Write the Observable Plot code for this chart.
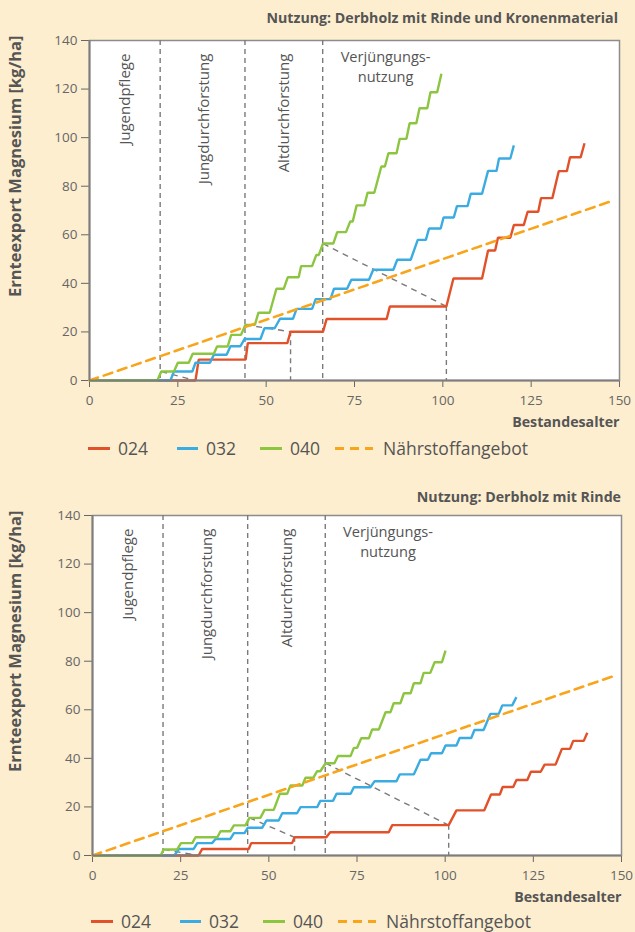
<!DOCTYPE html>
<html>
<head>
<meta charset="utf-8">
<script src="https://cdn.jsdelivr.net/npm/d3@7"></script>
<script src="https://cdn.jsdelivr.net/npm/@observablehq/plot@0.6"></script>
<style>
  html, body { margin: 0; padding: 0; background: #FDEECF; }
  #page { position: relative; width: 635px; height: 932px; background: #FDEECF; overflow: hidden; font-family: "Open Sans", sans-serif; color: #555; }
  .title { position: absolute; font-size: 14.2px; font-weight: bold; line-height: 20px; white-space: nowrap; }
  .chart { position: absolute; left: 0; }
  .lg-line { position: absolute; height: 0; }
  .lg-text { position: absolute; font-size: 17.5px; line-height: 22px; white-space: nowrap; color: #555; }
</style>
</head>
<body>
<div id="page"></div>
<script>
// ---------- data ----------
const xTicks = [0, 25, 50, 75, 100, 125, 150];
const yTicks = [0, 20, 40, 60, 80, 100, 120, 140];
const seriesKeys = ["024", "032", "040"];
const seriesColors = ["#E2522A", "#3BACE1", "#8CC540"];
const supplyLabel = "Nährstoffangebot";
const supplyColor = "#F9A51C";
const phaseBounds = [20, 44, 66];
const phaseNames = ["Jugendpflege", "Jungdurchforstung", "Altdurchforstung"];
const phaseLabelX = [10, 32.5, 55.2];
const lastPhaseLines = ["Verjüngungs-", "nutzung"];
const lastPhaseY = [133.2, 125.0];
const lastPhaseX = 83.8;
const yTitle = "Ernteexport Magnesium [kg/ha]";
const xTitle = "Bestandesalter";
const titleTop = "Nutzung: Derbholz mit Rinde und Kronenmaterial";
const titleBottom = "Nutzung: Derbholz mit Rinde";

// Nährstoffangebot (same in both panels)
const supply = [[0, 0], [148, 74]];

// top panel: Derbholz mit Rinde und Kronenmaterial
const top024 = [[0,0],[30,0],[30.9,8.6],[44.2,8.6],[44.8,15.4],[56,15.4],[56.9,20.1],[66.1,20.1],[67.1,25.3],[84.1,25.3],[85,30.5],[101,30.5],[103,42],[111.1,42],[112.8,53.5],[114.8,53.5],[115.6,58.8],[119.1,58.8],[120.1,64],[122.9,64],[124,69.5],[127,69.5],[127.8,75.1],[131,75.1],[132.8,86.2],[135.1,86.2],[136,91.9],[139,91.9],[140.1,97.7]];
const top032 = [[0,0],[22.9,0],[23.9,3.7],[29.1,3.7],[30,7.3],[34.1,7.3],[35.2,10.6],[38.8,10.6],[39.9,14.1],[42.7,14.1],[43.9,17.1],[48.4,17.1],[49.5,21.5],[52.4,21.5],[53.9,25.4],[57.6,25.4],[58.6,29.5],[63,29.5],[64,33.5],[68.2,33.5],[69.2,37.8],[72.9,37.8],[74.1,41.5],[79.1,41.5],[80.3,45.6],[86,45.6],[87.1,49.7],[90.9,49.7],[92.9,57.9],[95.2,57.9],[96.1,62.6],[99.4,62.6],[100.2,67.1],[103.1,67.1],[104,71.8],[107,71.8],[107.9,76.9],[111.1,76.9],[112.8,86.3],[115.2,86.3],[115.9,91.4],[119.1,91.4],[120.1,96.8]];
const top040 = [[0,0],[19.2,0],[20.3,3.7],[23.9,3.7],[25,7.3],[28.1,7.3],[29.2,11],[35.2,11],[36.1,14],[39.1,14],[40.1,18.8],[42.9,18.8],[44.1,22.9],[46.8,22.9],[47.8,27.9],[51,27.9],[52.9,37.8],[55,37.8],[56.1,42.5],[59.2,42.5],[59.9,47.1],[63,47.1],[64.2,51.7],[64.9,51.7],[66.1,56.4],[69,56.4],[70.1,61.1],[72.6,61.1],[73.8,65.5],[74.5,65.5],[75.6,72.1],[77.8,72.1],[78.7,77.3],[80.6,77.3],[82.6,88.1],[83.6,88.1],[84.6,93.6],[86.9,93.6],[87.8,99.5],[89.7,99.5],[90.6,105.9],[92.5,105.9],[93.4,112.1],[95.6,112.1],[96.5,118.7],[98.4,118.7],[99.6,126.3]];
const topLinks = [[[20.3,3.7],[30,0]], [[44.1,22.9],[56.9,20.1]], [[66.1,56.4],[101,30.5]]];
const topDrops = [[56.9,20.1],[101,30.5]];

// bottom panel: Derbholz mit Rinde
const bot024 = [[0,0],[30.1,0],[31.1,2.7],[44.3,2.7],[45,5.1],[56.6,5.1],[57.3,7.5],[66.3,7.5],[67.4,9.6],[84,9.6],[85,12.5],[101,12.5],[103.2,18.6],[111.1,18.6],[113,25.1],[115.5,25.1],[116.3,28.2],[119.3,28.2],[120.2,31.1],[123.3,31.1],[124.3,34.5],[127.1,34.5],[128.2,37.4],[131.3,37.4],[133.1,43.9],[135.4,43.9],[136.3,47.2],[139.3,47.2],[140.3,50.5]];
const bot032 = [[0,0],[23.2,0],[24.5,2.7],[28.7,2.7],[29.7,5.1],[33.9,5.1],[34.9,6.8],[39.1,6.8],[40.1,9.2],[43.1,9.2],[44,11.4],[48.1,11.4],[49.3,14.4],[52.8,14.4],[53.8,17.4],[58,17.4],[59,19.9],[63.7,19.9],[64.6,22.5],[68.2,22.5],[69.2,25.4],[73.2,25.4],[74.1,28.1],[78.8,28.1],[80,30.6],[86.2,30.6],[87.1,33.4],[91.1,33.4],[93,39.4],[95.1,39.4],[96,42.1],[99.1,42.1],[100.1,45.3],[103.2,45.3],[104.1,48.4],[107.4,48.4],[108.3,51.7],[110.9,51.7],[112.8,58.3],[115.2,58.3],[116.2,61.8],[119,61.8],[120.2,65.2]];
const bot040 = [[0,0],[19.3,0],[20.2,2.5],[24,2.5],[25.1,5.1],[28.3,5.1],[29.2,7.5],[35.4,7.5],[36.3,10],[39.1,10],[40.1,12.4],[43.4,12.4],[44.5,15.5],[47.6,15.5],[48.8,18.8],[51.4,18.8],[53.1,25.4],[55.2,25.4],[56.1,28.8],[59.5,28.8],[60.4,32],[62.6,32],[63.7,34.7],[64.6,34.7],[66.1,38],[68.6,38],[69.6,41],[73.2,41],[74.1,44.3],[75,44.3],[76.2,48.3],[78.4,48.3],[79.3,51.9],[81.2,51.9],[83.1,59],[84.5,59],[85.4,62.7],[87.3,62.7],[88.3,66.8],[90.2,66.8],[91.1,70.9],[93,70.9],[93.9,75.2],[95.8,75.2],[97,79.6],[99.1,79.6],[100.1,84.4]];
const botLinks = [[[20.2,2.5],[30.1,0]], [[44.5,15.5],[57.3,7.5]], [[66.1,38],[101,12.5]]];
const botDrops = [[57.3,7.5],[101,12.5]];

// ---------- build ----------
const page = document.getElementById("page");

function makeChart(series, links, drops, ml, mr) {
  const phaseTable = phaseNames.map((t, i) => ({x: phaseLabelX[i], y: 134.6, t}));
  const lastTable = lastPhaseLines.map((t, i) => ({x: lastPhaseX, y: lastPhaseY[i], t}));
  const linkTable = links.map(([a, b]) => ({x1: a[0], y1: a[1], x2: b[0], y2: b[1]}));
  const dropTable = drops.map(([x, y]) => ({x, y1: y, y2: 0}));
  const marks = [
    Plot.frame({fill: "white", stroke: "#8c8c8c", strokeWidth: 1.5}),
    Plot.ruleX(phaseBounds, {stroke: "#7a7a7a", strokeWidth: 1.4, strokeDasharray: "5,4"}),
    Plot.ruleX(dropTable, {x: "x", y1: "y1", y2: "y2", stroke: "#7a7a7a", strokeWidth: 1.4, strokeDasharray: "5,4"}),
    Plot.link(linkTable, {x1: "x1", y1: "y1", x2: "x2", y2: "y2", stroke: "#7a7a7a", strokeWidth: 1.4, strokeDasharray: "6,5"}),
    Plot.text(phaseTable, {x: "x", y: "y", text: "t", rotate: -90, textAnchor: "end", lineAnchor: "middle", fontSize: 15, fill: "#555"}),
    Plot.text(lastTable, {x: "x", y: "y", text: "t", fontSize: 14.6, lineAnchor: "middle", fill: "#555"}),
  ];
  series.forEach((s, i) => {
    marks.push(Plot.line(s, {x: d => d[0], y: d => d[1], stroke: seriesColors[i], strokeWidth: 2.4, strokeLinejoin: "miter", strokeLinecap: "butt"}));
  });
  marks.push(Plot.line(supply, {x: d => d[0], y: d => d[1], stroke: supplyColor, strokeWidth: 2.6, strokeDasharray: "9,6"}));
  marks.push(Plot.ruleY([0], {stroke: "#7d7d7d", strokeWidth: 2}));
  marks.push(Plot.ruleX([0], {stroke: "#7d7d7d", strokeWidth: 2}));
  marks.push(Plot.text([yTitle], {frameAnchor: "top-left", dx: -(ml - 15), dy: -5, rotate: -90, textAnchor: "end", lineAnchor: "middle", fontSize: 16.5, fontWeight: "bold", fill: "#555"}));
  marks.push(Plot.text([xTitle], {frameAnchor: "bottom-right", dy: 42, textAnchor: "end", lineAnchor: "middle", fontSize: 14.2, fontWeight: "bold", fill: "#555"}));
  return Plot.plot({
    width: 635,
    height: 402,
    marginTop: 10,
    marginBottom: 52,
    marginLeft: ml,
    marginRight: mr,
    style: {background: "transparent", fontFamily: "Open Sans, sans-serif", fontSize: "13.5px", color: "#666", overflow: "visible"},
    x: {domain: [0, 150], ticks: xTicks, tickSize: 7, tickPadding: 8, label: null},
    y: {domain: [0, 140], ticks: yTicks, tickSize: 8, tickPadding: 4, label: null},
    marks
  });
}

function addTitle(text, top, right) {
  const d = document.createElement("div");
  d.className = "title";
  d.style.top = top + "px";
  d.style.right = right + "px";
  d.textContent = text;
  page.appendChild(d);
}

function addLegend(cy, shift) {
  const lines = [[88, 110], [177, 198], [260, 282], [335, 373]];
  const textX = [118, 206, 290, 383];
  const keys = [...seriesKeys, supplyLabel];
  const colors = [...seriesColors, supplyColor];
  keys.forEach((k, i) => {
    const l = document.createElement("div");
    l.className = "lg-line";
    l.style.left = (lines[i][0] + shift) + "px";
    l.style.width = (lines[i][1] - lines[i][0]) + "px";
    l.style.top = (cy - 1.5) + "px";
    l.style.borderTop = i === 3 ? "none" : `3px solid ${colors[i]}`;
    if (i === 3) {
      l.style.height = "3px";
      l.style.background = `repeating-linear-gradient(to right, ${colors[i]} 0 9px, transparent 9px 15px)`;
    }
    page.appendChild(l);
    const t = document.createElement("div");
    t.className = "lg-text";
    t.style.left = (textX[i] + shift) + "px";
    t.style.top = (cy - 11) + "px";
    t.textContent = k;
    page.appendChild(t);
  });
}

addTitle(titleTop, 8, 17);
const c1 = makeChart([top024, top032, top040], topLinks, topDrops, 89, 16);
c1.classList.add("chart");
c1.style.top = "30px";
page.appendChild(c1);
addLegend(448, 0);

addTitle(titleBottom, 487, 14);
const c2 = makeChart([bot024, bot032, bot040], botLinks, botDrops, 92, 14);
c2.classList.add("chart");
c2.style.top = "505px";
page.appendChild(c2);
addLegend(921, 3);
</script>
</body>
</html>
